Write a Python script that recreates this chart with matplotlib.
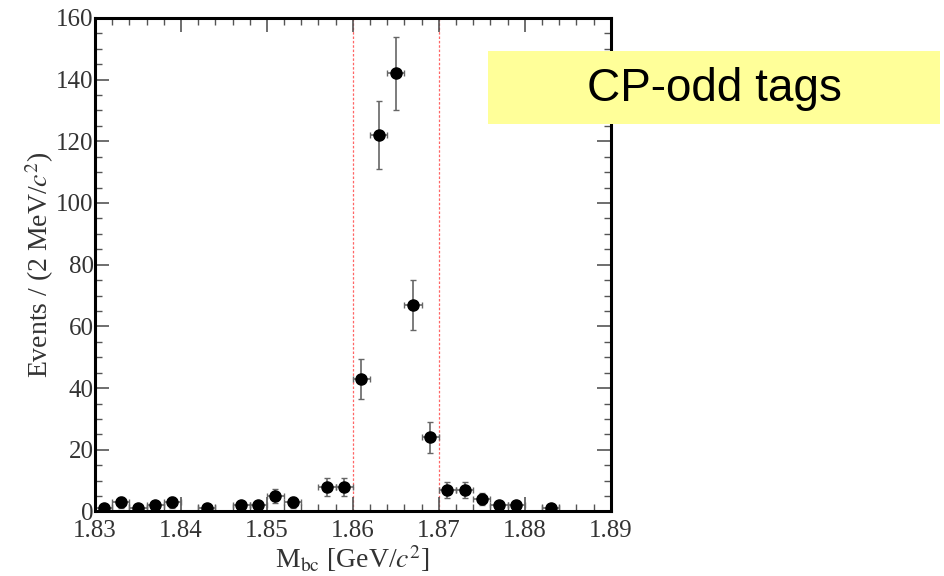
import numpy as np
import matplotlib.pyplot as plt
from matplotlib.patches import Rectangle
from matplotlib.ticker import MultipleLocator

# bin centres (GeV/c^2) and event counts
mbc = [1.831, 1.833, 1.835, 1.837, 1.839, 1.843, 1.847, 1.849, 1.851, 1.853,
       1.857, 1.859, 1.861, 1.863, 1.865, 1.867, 1.869, 1.871, 1.873, 1.875,
       1.877, 1.879, 1.883]
events = [1, 3, 1, 2, 3, 1, 2, 2, 5, 3,
          8, 8, 43, 122, 142, 67, 24, 7, 7, 4,
          2, 2, 1]
signal_window = [1.86, 1.87]

plt.rcParams['font.family'] = ['Liberation Serif', 'DejaVu Serif']
plt.rcParams['mathtext.fontset'] = 'stix'

fig = plt.figure(figsize=(9.44, 5.76), dpi=100)
ax = fig.add_axes([0.1006, 0.112, 0.5464, 0.857])

x = np.array(mbc)
y = np.array(events)
yerr = np.sqrt(y)
ax.errorbar(x, y, yerr=yerr, xerr=0.001, fmt='none', ecolor='#666666',
            elinewidth=1.2, capsize=2, capthick=1.0, zorder=2)
ax.plot(x, y, 'o', color='black', markersize=8, zorder=3)

for xv in signal_window:
    ax.axvline(xv, color='#ff3333', linestyle=(0, (2, 1.5)), linewidth=0.9, alpha=0.75, zorder=1)

ax.set_xlim(1.83, 1.89)
ax.set_ylim(0, 160)
ax.xaxis.set_major_locator(MultipleLocator(0.01))
ax.xaxis.set_minor_locator(MultipleLocator(0.002))
ax.yaxis.set_major_locator(MultipleLocator(20))
ax.yaxis.set_minor_locator(MultipleLocator(5))
ax.set_xticks(np.arange(1.83, 1.8901, 0.01))
ax.set_xticklabels(['1.83', '1.84', '1.85', '1.86', '1.87', '1.88', '1.89'])

ax.tick_params(which='both', direction='in', top=True, right=True,
               labelsize=18, labelcolor='#333333', color='#555555')
ax.tick_params(which='major', length=10, width=1.2)
ax.tick_params(which='minor', length=5, width=1.0)
ax.tick_params(axis='x', which='major', pad=6)
ax.tick_params(axis='y', which='major', pad=1)
for s in ax.spines.values():
    s.set_linewidth(2.2)

ax.set_xlabel(r'M$_{\rm bc}$ [GeV/$c^2$]', fontsize=20, color='#333333', labelpad=1)
ax.set_ylabel(r'Events / (2 MeV/$c^2$)', fontsize=20, color='#333333', labelpad=0)

# yellow label box
fig.patches.append(Rectangle((0.517, 0.785), 0.479, 0.126, transform=fig.transFigure,
                             facecolor='#FFFF99', edgecolor='none', zorder=5))
fig.text(0.757, 0.845, 'CP-odd tags', fontsize=33, family='Liberation Sans',
         ha='center', va='center', zorder=6)

fig.savefig('out.png', dpi=100)
